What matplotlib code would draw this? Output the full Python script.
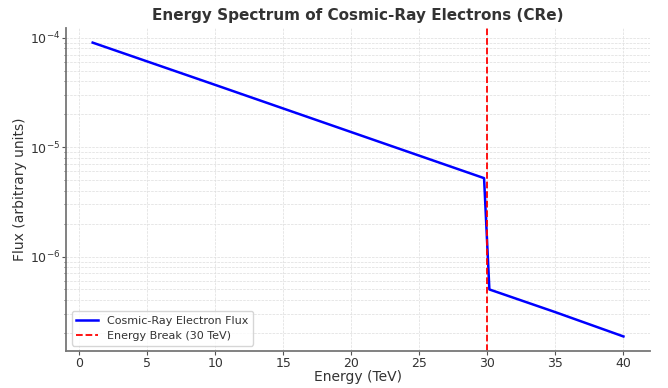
import matplotlib.pyplot as plt

# energy (TeV) and flux
energy = [1, 10, 20, 29.76, 30.15, 35, 40]
flux = [9.0e-5, 3.7e-5, 1.37e-5, 5.2e-6, 5.0e-7, 3.1e-7, 1.86e-7]
break_energy = 30

plt.rcParams['text.color'] = '#333333'
plt.rcParams['axes.labelcolor'] = '#333333'
plt.rcParams['xtick.color'] = '#333333'
plt.rcParams['ytick.color'] = '#333333'

fig = plt.figure(figsize=(6.68, 3.88), dpi=100)
ax = fig.add_axes([0.099, 0.095, 0.874, 0.833])

ax.plot(energy, flux, color='blue', lw=1.8, label='Cosmic-Ray Electron Flux')
ax.axvline(break_energy, color='red', ls='--', lw=1.3, label='Energy Break (30 TeV)')
ax.set_yscale('log')

ax.set_title('Energy Spectrum of Cosmic-Ray Electrons (CRe)', fontsize=11, fontweight='bold', pad=6)
ax.set_xlabel('Energy (TeV)', fontsize=10, labelpad=0)
ax.set_ylabel('Flux (arbitrary units)', fontsize=10, labelpad=2)
ax.tick_params(labelsize=9, color='#555555', length=3, pad=1.5)
ax.tick_params(which='minor', color='#555555', length=1.5)

ax.grid(True, which='both', ls='--', lw=0.5, color='#dddddd')
for s in ['top', 'right']:
    ax.spines[s].set_visible(False)
for s in ['left', 'bottom']:
    ax.spines[s].set_color('#777777')
    ax.spines[s].set_linewidth(1.3)

ax.legend(loc='lower left', fontsize=8)

fig.savefig('out.png')
